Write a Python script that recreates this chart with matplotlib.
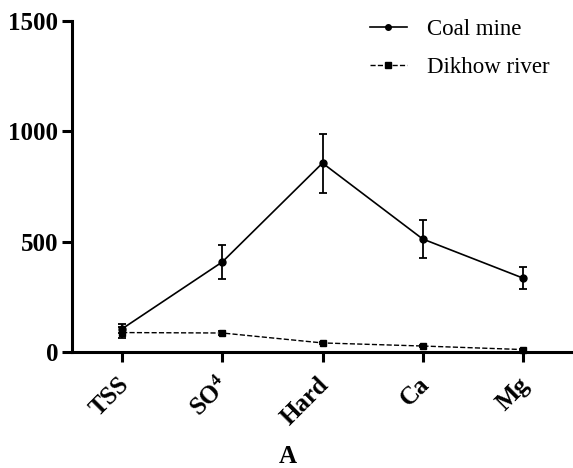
import matplotlib
matplotlib.use("Agg")
import matplotlib.pyplot as plt
import matplotlib.transforms as mtransforms
from matplotlib.lines import Line2D

categories = ["TSS", "SO$^4$", "Hard", "Ca", "Mg"]
coal_mine = [105, 408, 856, 512, 335]
coal_err = [20, 77, 134, 84, 50]
dikhow = [88, 86, 41, 27, 11]
dikhow_err = [26, 8, 6, 5, 4]
yticks = [0, 500, 1000, 1500]

plt.rcParams["font.family"] = ["Liberation Serif", "DejaVu Serif"]
plt.rcParams["mathtext.fontset"] = "custom"
plt.rcParams["mathtext.rm"] = "Liberation Serif:bold"
plt.rcParams["mathtext.it"] = "Liberation Serif:bold"
plt.rcParams["mathtext.bf"] = "Liberation Serif:bold"

fig = plt.figure(figsize=(5.73, 4.68), dpi=100)
ax = fig.add_axes([0.1257, 0.2479, 0.8743, 0.7073])

x = list(range(len(categories)))
ax.errorbar(x, coal_mine, yerr=coal_err, color="black", lw=1.2, marker="o", ms=5,
            capsize=3, elinewidth=1.3, capthick=1.3, clip_on=False)
ax.errorbar(x, dikhow, yerr=dikhow_err, color="black", lw=1.0, ls="--", marker="s", ms=5,
            capsize=3, elinewidth=1.3, capthick=1.3, clip_on=False)

ax.set_xlim(-0.5, 4.5)
ax.set_ylim(0, 1500)
ax.set_yticks(yticks)
ax.set_xticks(x)

for s in ["top", "right"]:
    ax.spines[s].set_visible(False)
for s in ["left", "bottom"]:
    ax.spines[s].set_linewidth(2.2)
ax.tick_params(axis="both", width=2.2, length=7, pad=3)
ax.tick_params(axis="x", pad=8)

ax.set_xticklabels(categories, rotation=45, ha="right", rotation_mode="anchor",
                   fontsize=18, fontweight="bold")
shift = mtransforms.ScaledTranslation(-5 / 100, 0, fig.dpi_scale_trans)
for lbl in ax.get_xticklabels():
    lbl.set_transform(lbl.get_transform() + shift)
for lbl in ax.get_yticklabels():
    lbl.set_fontsize(18)
    lbl.set_fontweight("bold")

handles = [Line2D([], [], color="black", lw=1.2, marker="o", ms=4),
           Line2D([], [], color="black", lw=1.0, ls="--", marker="s", ms=4)]
labels = ["Coal mine", "Dikhow river"]
fig.legend(handles, labels, loc="upper left", bbox_to_anchor=(370 / 573, 1 - 19 / 468),
           frameon=False, borderpad=0, borderaxespad=0,
           fontsize=16.5, handlelength=1.6, handletextpad=0.87, labelspacing=0.74)

fig.text(288 / 573, 1 - 463 / 468, "A", fontsize=18, fontweight="bold",
         ha="center", va="baseline")

fig.savefig("out.png", dpi=100)
